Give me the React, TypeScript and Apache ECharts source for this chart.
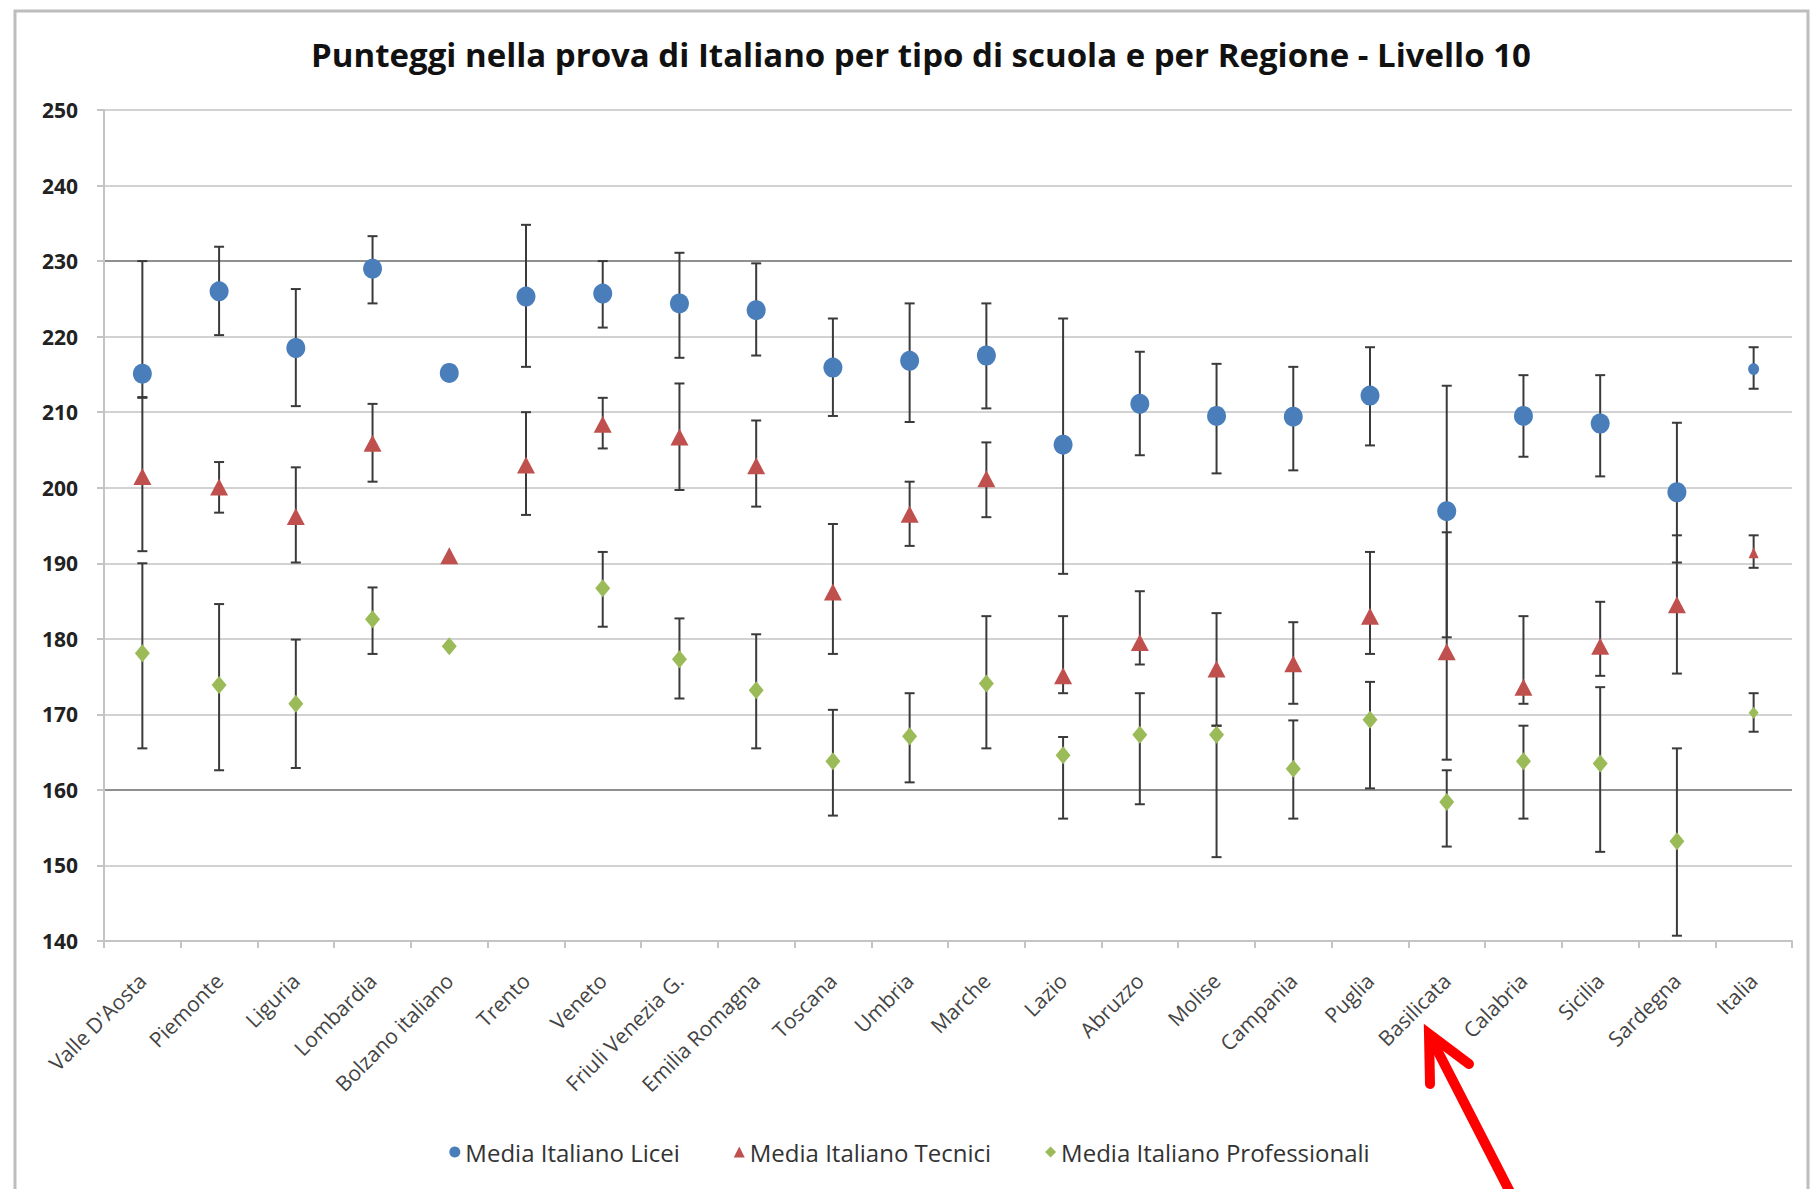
import React, { useEffect, useRef } from "react";
import * as echarts from "echarts";

const categories = [
  "Valle D'Aosta", "Piemonte", "Liguria", "Lombardia", "Bolzano italiano", "Trento", "Veneto",
  "Friuli Venezia G.", "Emilia Romagna", "Toscana", "Umbria", "Marche", "Lazio", "Abruzzo",
  "Molise", "Campania", "Puglia", "Basilicata", "Calabria", "Sicilia", "Sardegna", "Italia",
];

const seriesNames = ["Media Italiano Licei", "Media Italiano Tecnici", "Media Italiano Professionali"];

const liceiMean = [215.1, 226.0, 218.5, 229.0, 215.2, 225.3, 225.7, 224.4, 223.5, 215.9, 216.8, 217.5, 205.7, 211.1, 209.5, 209.4, 212.2, 196.9, 209.5, 208.5, 199.4, 215.7];
const liceiLow = [211.9, 220.2, 210.8, 224.4, null, 216.0, 221.2, 217.2, 217.5, 209.5, 208.7, 210.5, 188.6, 204.3, 201.9, 202.3, 205.6, 180.2, 204.1, 201.5, 190.1, 213.1];
const liceiHigh = [230.0, 231.9, 226.3, 233.3, null, 234.8, 230.0, 231.1, 229.7, 222.4, 224.4, 224.4, 222.4, 218.0, 216.4, 216.0, 218.6, 213.5, 214.9, 214.9, 208.6, 218.6];

const tecniciMean = [201.5, 200.1, 196.2, 205.9, 191.0, 203.0, 208.4, 206.7, 202.9, 186.2, 196.5, 201.2, 175.1, 179.5, 176.0, 176.7, 183.0, 178.3, 173.6, 179.0, 184.5, 191.4];
const tecniciLow = [191.6, 196.7, 190.1, 200.8, null, 196.4, 205.2, 199.7, 197.5, 178.0, 192.3, 196.1, 172.8, 176.6, 168.5, 171.4, 178.0, 164.0, 171.4, 175.1, 175.4, 189.4];
const tecniciHigh = [212.0, 203.4, 202.7, 211.1, null, 210.0, 211.9, 213.8, 208.9, 195.2, 200.8, 206.0, 183.0, 186.3, 183.4, 182.2, 191.5, 194.1, 183.0, 184.9, 193.7, 193.7];

const profMean = [178.1, 173.9, 171.4, 182.6, 179.0, null, 186.7, 177.3, 173.2, 163.8, 167.1, 174.1, 164.6, 167.3, 167.3, 162.8, 169.3, 158.4, 163.8, 163.5, 153.2, 170.2];
const profLow = [165.5, 162.6, 162.9, 178.0, null, null, 181.6, 172.1, 165.5, 156.6, 161.0, 165.5, 156.2, 158.1, 151.1, 156.2, 160.2, 152.5, 156.2, 151.8, 140.7, 167.7];
const profHigh = [190.0, 184.6, 179.9, 186.8, null, null, 191.5, 182.7, 180.6, 170.6, 172.8, 183.0, 167.0, 172.8, 168.5, 169.2, 174.3, 162.6, 168.5, 173.6, 165.5, 172.8];

const yMin = 140;
const yMax = 250;
const yStep = 10;

const COLORS = ["#4a7ebb", "#c0504d", "#9bbb59"];
const FONT = "'Open Sans', Lato, sans-serif";

function errData(low: (number | null)[], high: (number | null)[]) {
  const out: number[][] = [];
  low.forEach((lo, i) => {
    const hi = high[i];
    if (lo != null && hi != null) out.push([i, lo, hi]);
  });
  return out;
}

function errSeries(name: string, low: (number | null)[], high: (number | null)[]) {
  return {
    type: "custom",
    name: name + " err",
    z: 2,
    encode: { x: 0, y: [1, 2] },
    data: errData(low, high),
    renderItem: (params: any, api: any) => {
      const x = api.value(0);
      const top = api.coord([x, api.value(2)]);
      const bot = api.coord([x, api.value(1)]);
      const hw = 5;
      const st = { stroke: "#3a3a3a", lineWidth: 2 };
      return {
        type: "group",
        children: [
          { type: "line", shape: { x1: top[0], y1: top[1], x2: bot[0], y2: bot[1] }, style: st },
          { type: "line", shape: { x1: top[0] - hw, y1: top[1], x2: top[0] + hw, y2: top[1] }, style: st },
          { type: "line", shape: { x1: bot[0] - hw, y1: bot[1], x2: bot[0] + hw, y2: bot[1] }, style: st },
        ],
      };
    },
  };
}

function markerSeries(name: string, data: (number | null)[], symbol: string, big: number[], small: number[], color: string) {
  return {
    type: "scatter",
    name,
    z: 5,
    symbol,
    symbolSize: (_v: any, p: any) => (p.dataIndex === categories.length - 1 ? small : big),
    itemStyle: { color, opacity: 1 },
    data: data.map((v) => (v == null ? "-" : v)),
  };
}

export default function App() {
  const ref = useRef<HTMLDivElement>(null);
  useEffect(() => {
    if (!ref.current) return;
    const chart = echarts.init(ref.current, undefined, { renderer: "svg" });
    const gridColors = Array.from({ length: (yMax - yMin) / yStep + 1 }, (_, i) => {
      const v = yMin + i * yStep;
      return v === 160 || v === 230 ? "#8f8f8f" : "#d2d2d2";
    });
    chart.setOption({
      animation: false,
      backgroundColor: "#ffffff",
      title: {
        text: "Punteggi nella prova di Italiano per tipo di scuola e per Regione - Livello 10",
        left: 916,
        textAlign: "center",
        top: 33,
        textStyle: { fontFamily: FONT, fontWeight: "bold", fontSize: 33, color: "#111" },
      },
      legend: {
        data: [
          { name: seriesNames[0], icon: "circle" },
          { name: seriesNames[1], icon: "triangle" },
          { name: seriesNames[2], icon: "diamond" },
        ],
        left: "center",
        top: 1135,
        itemWidth: 11,
        itemHeight: 11,
        itemGap: 54,
        textStyle: { fontFamily: FONT, fontSize: 24, color: "#333" },
      },
      grid: { left: 104, right: 27, top: 110, bottom: 1189 - 941, containLabel: false },
      xAxis: {
        type: "category",
        data: categories,
        boundaryGap: true,
        axisLine: { show: true, lineStyle: { color: "#c4c4c4", width: 2 } },
        axisTick: { show: true, length: 7, lineStyle: { color: "#c4c4c4", width: 2 } },
        axisLabel: { rotate: 45, interval: 0, margin: 36, fontFamily: FONT, fontSize: 21, color: "#444" },
        splitLine: { show: false },
      },
      yAxis: {
        type: "value",
        min: yMin,
        max: yMax,
        interval: yStep,
        axisLine: { show: true, lineStyle: { color: "#c4c4c4", width: 2 } },
        axisTick: { show: true, length: 7, lineStyle: { color: "#c4c4c4", width: 2 } },
        axisLabel: { margin: 26, fontFamily: FONT, fontSize: 21, fontWeight: "bold", color: "#222" },
        splitLine: { show: true, lineStyle: { color: gridColors, width: 2 } },
      },
      series: [
        errSeries(seriesNames[0], liceiLow, liceiHigh),
        errSeries(seriesNames[1], tecniciLow, tecniciHigh),
        errSeries(seriesNames[2], profLow, profHigh),
        markerSeries(seriesNames[0], liceiMean, "circle", [19, 20], [11, 12], COLORS[0]),
        markerSeries(seriesNames[1], tecniciMean, "triangle", [18, 17], [10, 11], COLORS[1]),
        markerSeries(seriesNames[2], profMean, "diamond", [15, 18], [10, 12], COLORS[2]),
      ],
      graphic: [
        {
          type: "rect",
          shape: { x: 15, y: 11, width: 1793, height: 1250 },
          style: { fill: "none", stroke: "#bdbdbd", lineWidth: 3 },
          silent: true,
        },
        {
          type: "line",
          shape: { x1: 1510, y1: 1192, x2: 1432, y2: 1040 },
          style: { stroke: "#ff0000", lineWidth: 10, lineCap: "round" },
          z: 100,
        },
        {
          type: "polyline",
          shape: { points: [[1430, 1084], [1429, 1034], [1469, 1064]] },
          style: { stroke: "#ff0000", fill: "none", lineWidth: 10, lineCap: "round", lineJoin: "miter" },
          z: 100,
        },
      ],
    });
    return () => chart.dispose();
  }, []);
  return (
    <div
      ref={ref}
      style={{ position: "absolute", left: 0, top: 0, width: 1819, height: 1189, background: "#fff" }}
    />
  );
}
